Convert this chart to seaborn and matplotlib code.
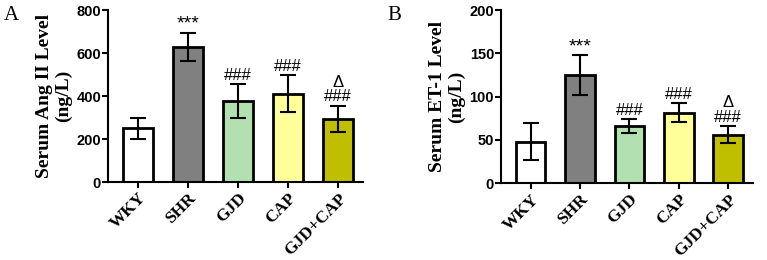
import matplotlib
matplotlib.use("Agg")
import matplotlib.pyplot as plt
import seaborn as sns
import pandas as pd

groups = ["WKY", "SHR", "GJD", "CAP", "GJD+CAP"]
colors = ["#ffffff", "#808080", "#b3e0b0", "#ffff99", "#bfbf00"]

angii_mean = [250, 630, 377, 410, 293]
angii_err = [48, 65, 77, 86, 62]
et1_mean = [48, 125, 66, 81, 56]
et1_err = [21, 23, 8, 11, 10]
marks = ["", "***", "###", "###", "\u0394\n###"]

sns.set_theme(style="white")
plt.rcParams["font.family"] = ["Liberation Sans", "DejaVu Sans"]
plt.rcParams["text.color"] = "black"
plt.rcParams["axes.labelcolor"] = "black"
plt.rcParams["xtick.color"] = "black"
plt.rcParams["ytick.color"] = "black"

fig = plt.figure(figsize=(7.67, 2.6), dpi=100)
axA = fig.add_axes([0.1408, 0.30, 0.3325, 0.6615])
axB = fig.add_axes([0.6532, 0.296, 0.3285, 0.6655])

serif = ["Liberation Serif", "DejaVu Serif"]

def panel(ax, means, errs, ylabel, ylim, yticks, letter, lx):
    df = pd.DataFrame({"group": groups, "value": means})
    sns.barplot(data=df, x="group", y="value", hue="group", palette=colors,
                order=groups, hue_order=groups, legend=False, ax=ax, saturation=1,
                width=0.6, edgecolor="black", linewidth=2)
    ax.errorbar(range(len(groups)), means, yerr=errs, fmt="none",
                ecolor="black", elinewidth=1.5, capsize=6, capthick=1.5, zorder=5)
    for i, (m, e, t) in enumerate(zip(means, errs, marks)):
        if t:
            fs = 14 if t == "***" else 12
            ax.annotate(t, xy=(i, m + e), xytext=(0, 0 if t == "***" else 1),
                        textcoords="offset points",
                        ha="center", va="bottom", fontsize=fs, linespacing=0.95,
                        family=["Liberation Sans", "DejaVu Sans"])
    ax.set_ylim(*ylim)
    ax.set_yticks(yticks)
    ax.set_xlim(-0.6, 4.5)
    ax.set_xlabel("")
    ax.set_ylabel(ylabel, family=serif, fontweight="bold", fontsize=14, labelpad=3,
                  linespacing=1.15)
    for s in ["top", "right"]:
        ax.spines[s].set_visible(False)
    for s in ["left", "bottom"]:
        ax.spines[s].set_color("black")
        ax.spines[s].set_linewidth(1.5)
    ax.tick_params(axis="y", direction="out", length=4, width=1.5, color="black",
                   labelsize=10.5, pad=1, left=True)
    ax.tick_params(axis="x", direction="out", length=4, width=1.5, color="black",
                   pad=2, bottom=True)
    for lab in ax.get_yticklabels():
        lab.set_fontweight("bold")
    ax.set_xticks(range(len(groups)))
    ax.set_xticklabels(groups, rotation=45, ha="right", rotation_mode="anchor",
                       family=serif, fontweight="bold", fontsize=12.5)
    fig.text(lx, 0.94, letter, family=serif, fontsize=15, va="center", ha="left")

panel(axA, angii_mean, angii_err, "Serum Ang II Level\n(ng/L)", (0, 800),
      [0, 200, 400, 600, 800], "A", 0.005)
panel(axB, et1_mean, et1_err, "Serum ET-1 Level\n(ng/L)", (0, 200),
      [0, 50, 100, 150, 200], "B", 0.505)

fig.savefig("out.png", dpi=100)
